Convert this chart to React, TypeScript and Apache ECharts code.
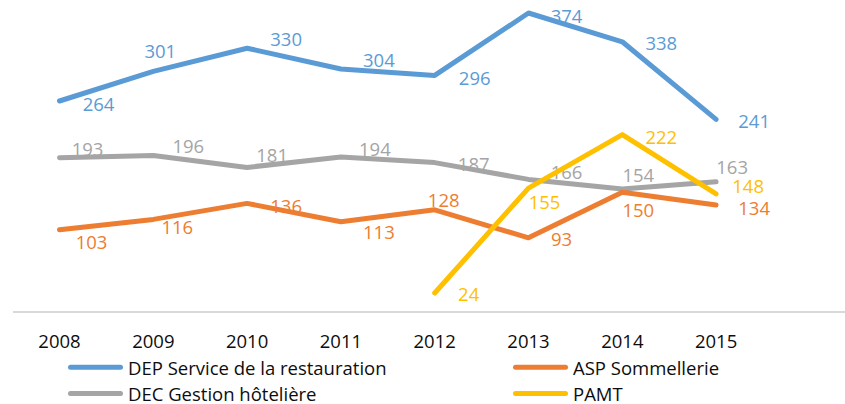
import React, { useEffect, useRef } from "react";
import * as echarts from "echarts";

const years = ["2008", "2009", "2010", "2011", "2012", "2013", "2014", "2015"];
const depValues = [264, 301, 330, 304, 296, 374, 338, 241];
const aspValues = [103, 116, 136, 113, 128, 93, 150, 134];
const decValues = [193, 196, 181, 194, 187, 166, 154, 163];
const pamtValues: (number | null)[] = [null, null, null, null, 24, 155, 222, 148];

const seriesNames = [
  "DEP Service de la restauration",
  "ASP Sommellerie",
  "DEC Gestion hôtelière",
  "PAMT",
];
const seriesColors = ["#5B9BD5", "#ED7D31", "#A5A5A5", "#FFC000"];

// label offsets (styling) relative to each point, label centred
const depOffsets = [[39, 2], [7, -21], [39, -10], [38, -10], [40, 2], [38, 2], [39, 1], [38, 1]];
const aspOffsets = [[32, 12], [24, 7], [39, 2], [38, 10], [9, -10], [33, 1], [16, 17], [38, 2]];
const decOffsets = [[28, -9], [35, -10], [25, -13], [34, -9], [39, 1], [38, -8], [16, -15], [16, -15]];
const pamtOffsets = [[0, 0], [0, 0], [0, 0], [0, 0], [34, 0], [16, 13], [39, 2], [32, -8]];

const FONT = "'Open Sans', 'Noto Sans', sans-serif";
const FS = 18.5;

function buildSeries(name: string, values: (number | null)[], color: string, offsets: number[][], z: number) {
  return {
    name,
    type: "line",
    z,
    data: values.map((v, i) => ({
      value: v,
      label: { offset: offsets[i] },
    })),
    symbol: "circle",
    symbolSize: 1,
    showSymbol: true,
    itemStyle: { color },
    lineStyle: { color, width: 5, cap: "round", join: "round" },
    label: {
      show: true,
      position: "inside",
      align: "center",
      verticalAlign: "middle",
      color,
      fontFamily: FONT,
      fontSize: FS,
      lineHeight: 18,
    },
    emphasis: { disabled: true },
  };
}

const pill = "path://M2.5,0 L52.5,0 A2.5,2.5 0 0 1 52.5,5 L2.5,5 A2.5,2.5 0 0 1 2.5,0 Z";

function legendAt(name: string, left: number, top: number) {
  return {
    data: [{ name, icon: pill }],
    left,
    top,
    padding: 0,
    itemWidth: 55,
    itemHeight: 5,
    selectedMode: false,
    textStyle: { color: "#0d0d0d", fontFamily: FONT, fontSize: FS, lineHeight: 18 },
  };
}

export default function App() {
  const ref = useRef<HTMLDivElement>(null);
  useEffect(() => {
    if (!ref.current) return;
    const chart = echarts.init(ref.current, null, { renderer: "svg" });
    chart.setOption({
      animation: false,
      backgroundColor: "#ffffff",
      grid: { left: 59.5, right: 128.9, top: 0.2, height: 312, outerBoundsMode: "none", containLabel: false },
      xAxis: {
        type: "category",
        data: years,
        boundaryGap: false,
        axisLine: { show: false },
        axisTick: { show: false },
        axisLabel: { color: "#0d0d0d", fontFamily: FONT, fontSize: FS, margin: 19 },
        splitLine: { show: false },
      },
      yAxis: {
        type: "value",
        min: 0,
        max: 390,
        show: false,
        splitLine: { show: false },
      },
      legend: [
        legendAt(seriesNames[0], 68, 357.7),
        legendAt(seriesNames[1], 513, 357.7),
        legendAt(seriesNames[2], 68, 384),
        legendAt(seriesNames[3], 513, 384),
      ],
      graphic: [
        {
          type: "line",
          shape: { x1: 13, y1: 312, x2: 845, y2: 312 },
          style: { stroke: "#d9d9d9", lineWidth: 2 },
          z: 0,
        },
      ],
      series: [
        buildSeries(seriesNames[0], depValues, seriesColors[0], depOffsets, 4),
        buildSeries(seriesNames[1], aspValues, seriesColors[1], aspOffsets, 3),
        buildSeries(seriesNames[2], decValues, seriesColors[2], decOffsets, 2),
        buildSeries(seriesNames[3], pamtValues, seriesColors[3], pamtOffsets, 5),
      ],
    });
    return () => chart.dispose();
  }, []);
  return (
    <div style={{ position: "absolute", left: 0, top: 0 }}>
      <div ref={ref} style={{ width: 845, height: 404 }} />
    </div>
  );
}
